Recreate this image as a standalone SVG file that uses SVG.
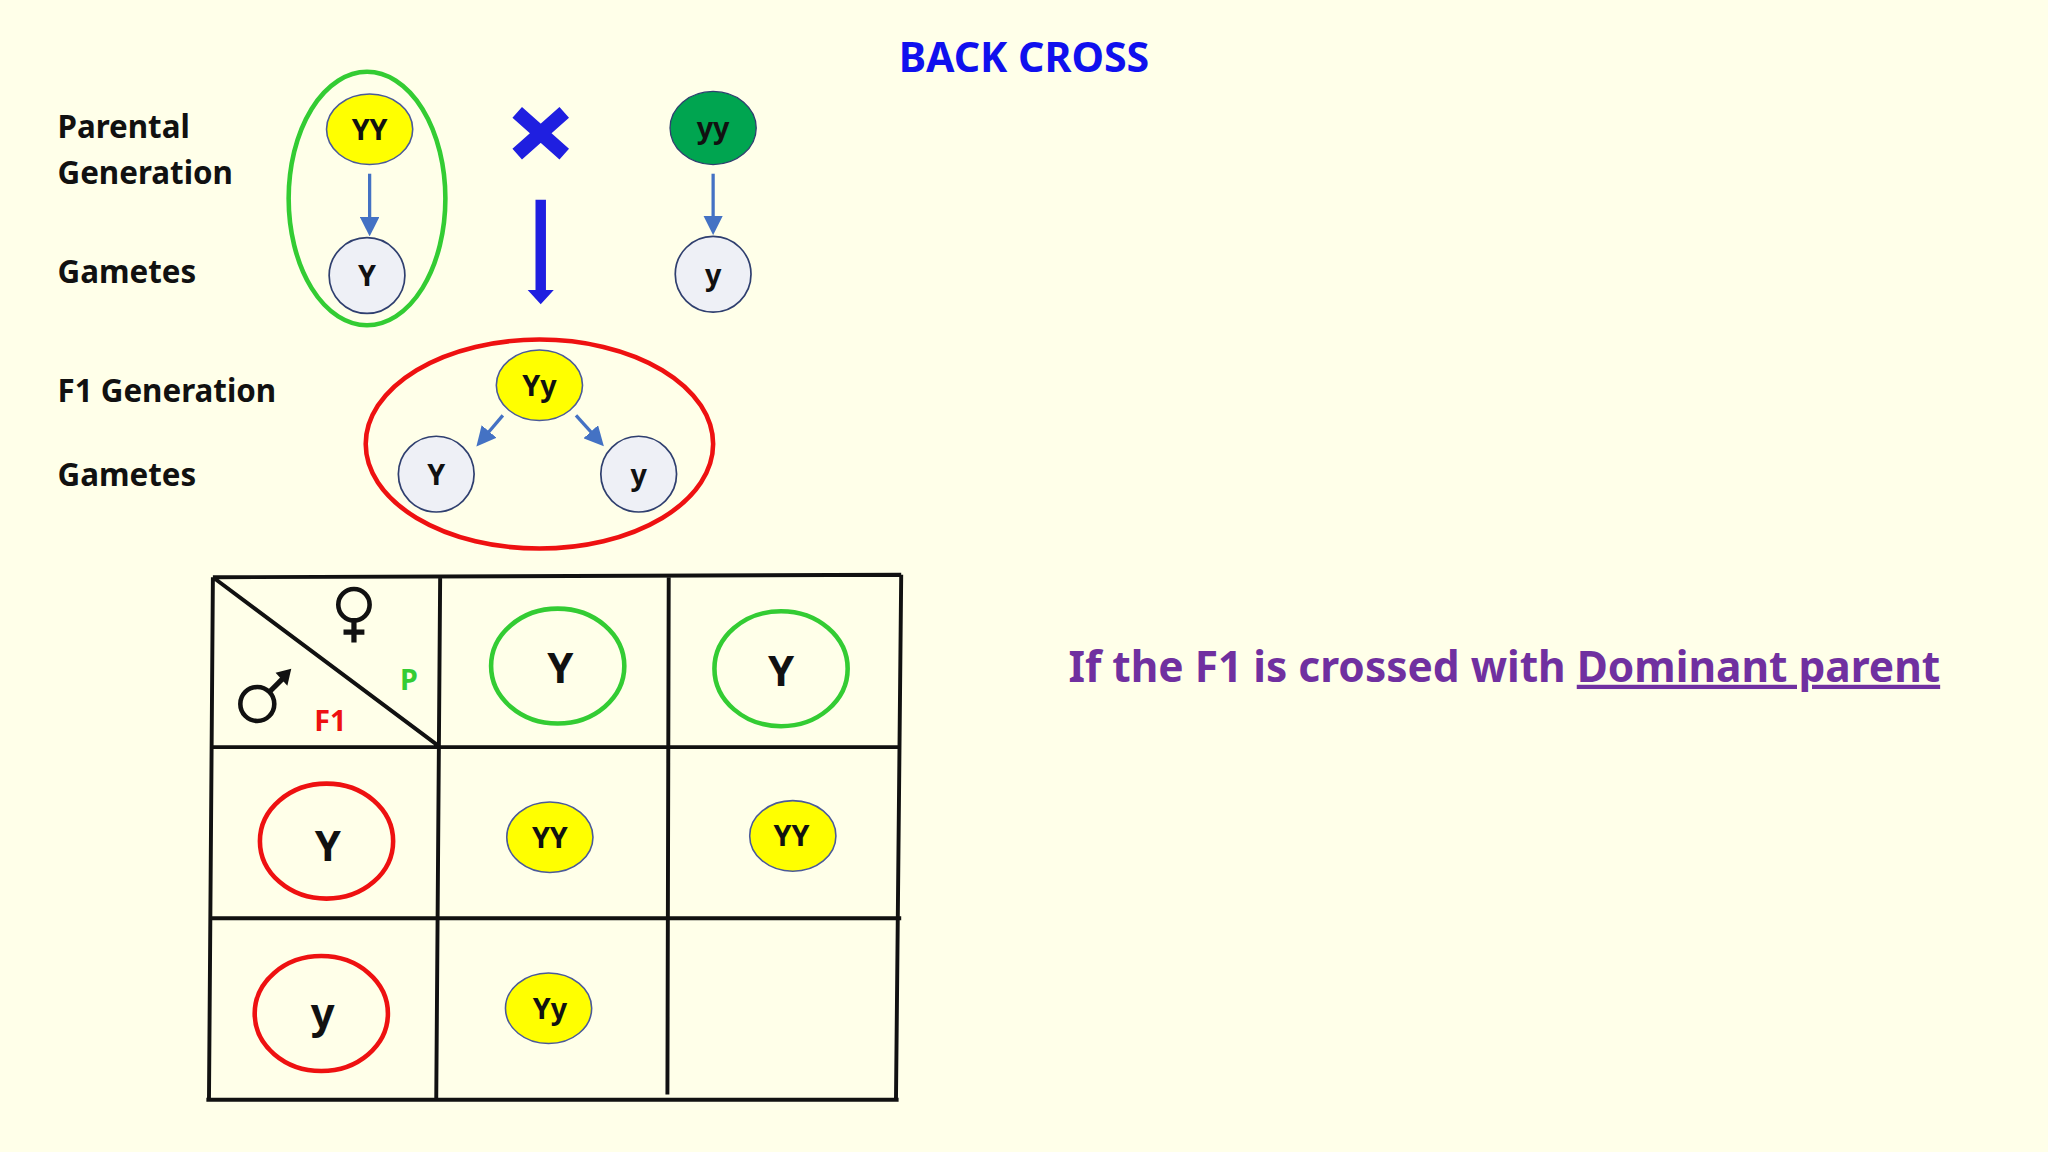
<svg xmlns="http://www.w3.org/2000/svg" width="2048" height="1152" viewBox="0 0 2048 1152">
<style>
text{font-family:"Noto Sans","Liberation Sans",sans-serif;font-weight:bold}
.lbl{font-size:24px;fill:#111}
.y{fill:#FFFF00;stroke:#4A5A9A;stroke-width:1.2}
.g{fill:#EEF0F6;stroke:#2F3F6F;stroke-width:1.3}
.ga{font-size:22px;fill:#111;text-anchor:middle}
.big{font-size:32px;fill:#111;text-anchor:middle}
.ar{stroke:#4472C4;stroke-width:2.5;fill:none;marker-end:url(#ah)}
.tb{stroke:#111;stroke-width:3;fill:none}
.gc{fill:none;stroke:#33CC33;stroke-width:3.5}
.rc{fill:none;stroke:#EE1111;stroke-width:3.5}
</style>
<defs><marker id="ah" markerWidth="6" markerHeight="6" refX="4" refY="3" orient="auto"><path d="M0,0L6,3L0,6z" fill="#4472C4"/></marker></defs>
<rect width="2048" height="1152" fill="#FFFFE9"/>
<g transform="scale(1.3061)">
<text x="784" y="55" font-size="31.5" fill="#1010EE" text-anchor="middle">BACK CROSS</text>
<g id="labels">
<text class="lbl" x="44" y="106">Parental</text>
<text class="lbl" x="44" y="141">Generation</text>
<text class="lbl" x="44" y="217">Gametes</text>
<text class="lbl" x="44" y="308">F1 Generation</text>
<text class="lbl" x="44" y="372">Gametes</text>
</g>
<g id="connectors">
<path class="ar" d="M283,133V176"/>
<path class="ar" d="M546,133V175"/>
<path class="ar" d="M385,318L368,338"/>
<path class="ar" d="M441,318L459,338"/>
<path d="M396,86L432,118M432,86L396,118" stroke="#1F1FE0" stroke-width="11"/>
<path d="M410,153H418V222H424L414,233L404,222H410Z" fill="#1F1FE0"/>
</g>
<g id="p1"><ellipse class="gc" cx="281" cy="152" rx="60" ry="97"/>
<ellipse class="y" cx="283" cy="99" rx="33" ry="27"/><text class="ga" x="283" y="107">YY</text></g>
<g id="g1"><circle class="g" cx="281" cy="211" r="29"/><text class="ga" x="281" y="219">Y</text></g>
<g id="p2"><ellipse cx="546" cy="98" rx="33" ry="28" fill="#00A550" stroke="#2F3F6F"/><text class="ga" x="546" y="106">yy</text></g>
<g id="g2"><circle class="g" cx="546" cy="210" r="29"/><text class="ga" x="546" y="218">y</text></g>
<g id="f1"><ellipse class="rc" cx="413" cy="340" rx="133" ry="80"/>
<ellipse class="y" cx="413" cy="295" rx="33" ry="27"/><text class="ga" x="413" y="303">Yy</text></g>
<g id="g3"><circle class="g" cx="334" cy="363" r="29"/><text class="ga" x="334" y="371">Y</text></g>
<g id="g4"><circle class="g" cx="489" cy="363" r="29"/><text class="ga" x="489" y="371">y</text></g>
<g id="table">
<path class="tb" d="M163,442L690,440M162,572H690M161,703H690M158,842H688M163,442L160,842M337,442L334,842M512,442L511,838M690,440L686,842M163,442L337,572"/>
<circle cx="271" cy="463" r="12" fill="none" stroke="#111" stroke-width="3.5"/>
<path d="M271,475V492M263,484H279" stroke="#111" stroke-width="4"/>
<circle cx="197" cy="539" r="13" fill="none" stroke="#111" stroke-width="3.5"/>
<path d="M206,530L218,518" stroke="#111" stroke-width="4"/>
<path d="M211,515L223,512L220,525Z" fill="#111"/>
<text x="313" y="528" font-size="22" fill="#33CC33" text-anchor="middle">P</text>
<text x="253" y="560" font-size="22" fill="#EE1111" text-anchor="middle">F1</text>
</g>
<g id="h1"><ellipse class="gc" cx="427" cy="510" rx="51" ry="44"/><text class="big" x="429" y="523">Y</text></g>
<g id="h2"><ellipse class="gc" cx="598" cy="512" rx="51" ry="44"/><text class="big" x="598" y="525">Y</text></g>
<g id="r1"><ellipse class="rc" cx="250" cy="644" rx="51" ry="44"/><text class="big" x="251" y="659">Y</text></g>
<g id="r2"><ellipse class="rc" cx="246" cy="776" rx="51" ry="44"/><text class="big" x="247" y="787">y</text></g>
<g id="c1"><ellipse class="y" cx="421" cy="641" rx="33" ry="27"/><text class="ga" x="421" y="649">YY</text></g>
<g id="c2"><ellipse class="y" cx="607" cy="640" rx="33" ry="27"/><text class="ga" x="606" y="648">YY</text></g>
<g id="c3"><ellipse class="y" cx="420" cy="772" rx="33" ry="27"/><text class="ga" x="421" y="780">Yy</text></g>
<text x="818" y="522" font-size="32.5" fill="#7030A0">If the F1 is crossed with <tspan text-decoration="underline">Dominant parent</tspan></text>
</g>
</svg>
